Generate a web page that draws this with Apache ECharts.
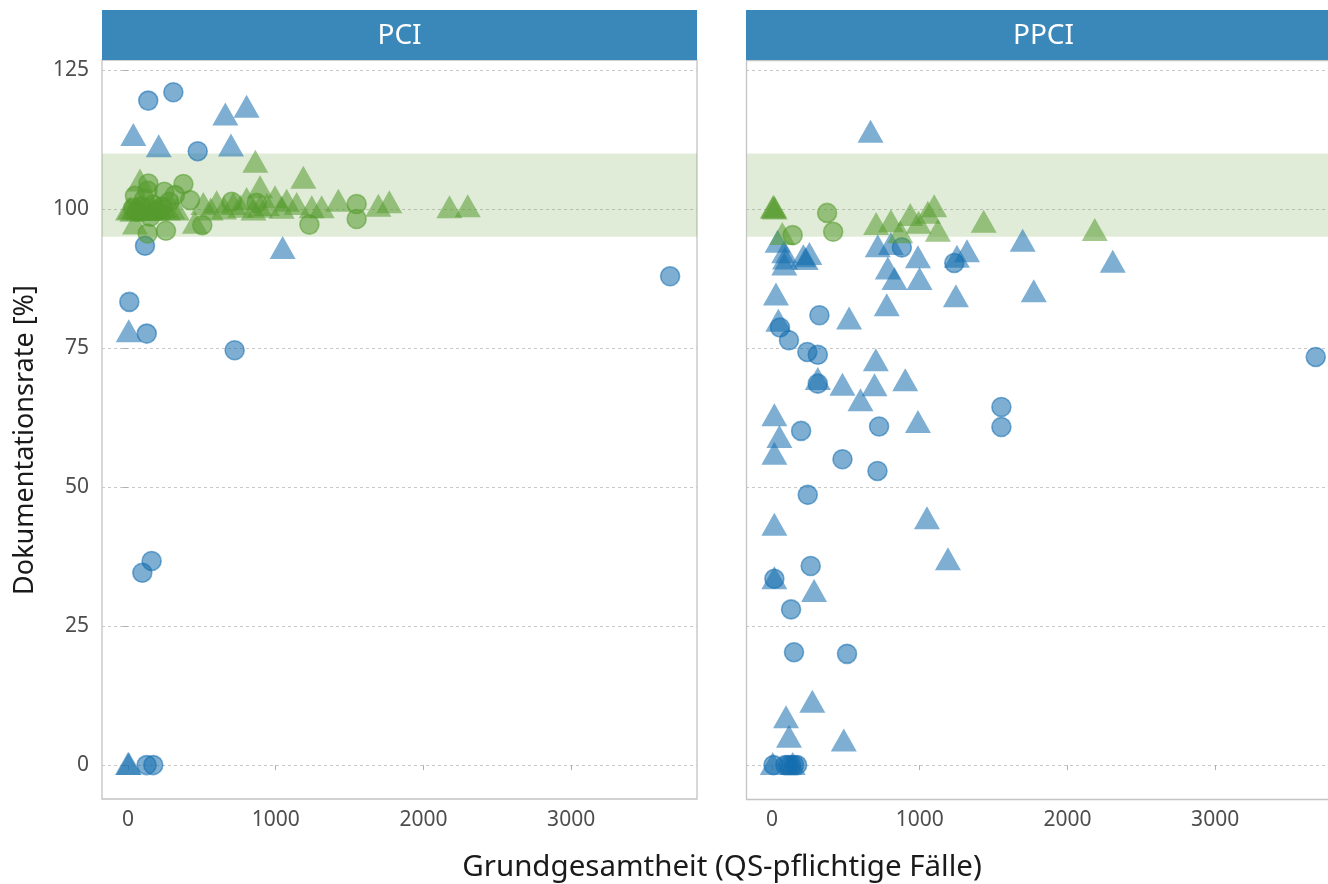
<!DOCTYPE html>
<html>
<head>
<meta charset="utf-8">
<script src="https://cdn.jsdelivr.net/npm/echarts@6/dist/echarts.min.js"></script>
<style>html,body{margin:0;padding:0;background:#fff}#c{width:1328px;height:884px}</style>
</head>
<body>
<div id="c"></div>
<script>
// ---------- data ----------
const panels = ['PCI', 'PPCI'];
const yTicks = [0, 25, 50, 75, 100, 125];
const xTicks = [0, 1000, 2000, 3000];
const bandLow = 95, bandHigh = 110;

// PCI: circles [x, y]
const pciCircles = [
  [137,119.5],[307,121],[472,110.4],[115,93.4],[9,83.3],[127,77.6],[722,74.6],[160,36.7],[97,34.6],[126,0],[171,0],[3670,87.9],
  [138,104.6],[375,104.5],[246,103.1],[318,102.5],[47,102.4],[133,103.3],[420,101.6],[702,101.3],[871,101.1],[1548,100.9],[1548,98.2],
  [1228,97.2],[503,97.1],[257,96.1],[133,95.6],[90,100.5],[170,100.8],[200,99.8],[60,99.5],[110,101.8],[230,100.4],[280,101.3],[150,98.6],[35,100.2]
];
// PCI: triangles [x, y]
const pciTriangles = [
  [36,113.4],[208,111.4],[659,117.1],[803,118.5],[697,111.5],[1047,93.1],[5,78.1],[0,0.3],[6,0.3],
  [862,108.6],[1187,105.7],[894,104],[81,105.2],[47,97.5],[453,97.6],
  [0,100],[15,100.2],[30,99.8],[50,100.3],[70,100],[90,100.4],[110,99.9],[130,100.2],[150,100],[170,100.3],[190,99.9],[210,100.1],[240,100.4],[270,100],[300,100.2],[330,100],
  [510,101],[560,100],[600,101.3],[650,100.2],[713,101],[760,100.5],[803,101.9],[850,100],[894,100.5],[940,100.8],[995,102.2],[1040,100.3],[1074,101.6],[1142,101],
  [1244,100.4],[1311,100.4],[1424,101.6],[1695,100.7],[1769,101.3],[2176,100.4],[2300,100.6]
];
// PPCI: circles [x, y]
const ppciCircles = [
  [879,93.1],[1234,90.3],[321,80.9],[54,78.7],[115,76.4],[239,74.3],[310,73.8],[310,68.6],[1553,64.4],[1553,60.8],[725,60.9],[197,60.1],
  [477,55],[714,52.9],[242,48.6],[262,35.8],[16,33.5],[129,28],[149,20.3],[508,20],[10,0],[90,0],[110,0],[130,0],[150,0],[170,0],[3681,73.4],
  [373,99.3],[414,95.9],[140,95.3]
];
// PPCI: triangles [x, y]
const ppciTriangles = [
  [667,114],[38,94.2],[83,92.3],[88,91.2],[83,90.1],[212,91.6],[253,92],[228,91.1],[716,93.4],[805,93.8],[988,91.4],[784,89.4],[829,87.5],
  [999,87.5],[1252,91.5],[1320,92.5],[1697,94.4],[2307,90.6],[27,84.7],[777,82.8],[1245,84.4],[1772,85.3],[522,80.4],[43,80],[703,72.9],
  [310,69.5],[477,68.5],[694,68.4],[902,69.3],[599,65.7],[16,63],[50,59.1],[16,56.1],[988,61.8],[16,43.3],[1049,44.5],[1191,37.1],[16,33.7],
  [285,31.4],[273,11.5],[95,8.7],[115,5.2],[486,4.5],[5,0.3],[140,0.3],
  [5,100.3],[12,100.5],[18,100.2],[70,95.6],[705,97.4],[805,97.9],[868,95.9],[936,99],[992,97.6],[1055,99.4],[1098,100.6],[1123,96.2],[1433,97.8],[2185,96.3]
];

// ---------- styling ----------
const BLUE = 'rgb(20,110,175)';
const GREEN = 'rgb(85,155,45)';
const FONT = '"Noto Sans", "Open Sans", sans-serif';
const BORDER = '#c4c4c4';
const inBand = p => p[1] >= bandLow && p[1] <= bandHigh;

const panelData = [
  {circles: pciCircles, triangles: pciTriangles},
  {circles: ppciCircles, triangles: ppciTriangles}
];

// panel 1 fully visible; panel 2 runs past the right window edge (same scale, clipped range)
const xMin = -176;
const pxPerUnit = 595 / (3852 - xMin);
const gridLeft = [102, 746];
const gridW = [595, 582];
const xMax = gridW.map(w => xMin + w / pxPerUnit);
const gridTop = 60, gridH = 739;

const grids = gridLeft.map((l, i) => ({left: l, top: gridTop, width: gridW[i], height: gridH, show: i === 0,
  borderColor: BORDER, borderWidth: 1.3, backgroundColor: 'transparent', containLabel: false}));

const xAxes = [0, 1].map(i => ({
  type: 'value', gridIndex: i, min: xMin, max: xMax[i],
  axisLine: {show: false},
  axisTick: {show: true, length: 5, lineStyle: {color: '#b0b0b0', width: 1}, customValues: xTicks},
  axisLabel: {show: true, color: '#4d4d4d', fontSize: 21, fontFamily: FONT, margin: 11, customValues: xTicks,
    formatter: v => String(v)},
  splitLine: {show: false}
}));
const yAxes = [0, 1].map(i => ({
  type: 'value', gridIndex: i, min: -6.1, max: 126.8,
  axisLine: {show: false},
  axisTick: {show: i === 0, length: 5, lineStyle: {color: '#b0b0b0', width: 1}, customValues: yTicks},
  axisLabel: {show: i === 0, color: '#4d4d4d', fontSize: 21, fontFamily: FONT, margin: 13, customValues: yTicks,
    formatter: v => String(v)},
  splitLine: {show: true, lineStyle: {color: '#c8c8c8', type: [3, 3], width: 1}}
}));

const series = [];
panelData.forEach((pd, i) => {
  // band
  series.push({type: 'scatter', xAxisIndex: i, yAxisIndex: i, data: [], silent: true,
    markArea: {silent: true, itemStyle: {color: 'rgba(100,160,60,0.2)'}, data: [[{yAxis: bandLow}, {yAxis: bandHigh}]]}, z: 1});
  const groups = [
    {data: pd.circles.filter(p => !inBand(p)), sym: 'circle', col: BLUE},
    {data: pd.triangles.filter(p => !inBand(p)), sym: 'triangle', col: BLUE},
    {data: pd.circles.filter(inBand), sym: 'circle', col: GREEN},
    {data: pd.triangles.filter(inBand), sym: 'triangle', col: GREEN}
  ];
  groups.forEach(g => {
    series.push({
      type: 'scatter', xAxisIndex: i, yAxisIndex: i, data: g.data,
      symbol: g.sym, symbolSize: g.sym === 'circle' ? 19 : [26, 23],
      itemStyle: g.sym === 'circle'
        ? {color: g.col, opacity: 0.55, borderColor: g.col, borderWidth: 1.6}
        : {color: g.col, opacity: 0.55, borderWidth: 0},
      z: 3, emphasis: {disabled: true}
    });
  });
});

const graphics = [];
panels.forEach((name, i) => {
  graphics.push({type: 'rect', left: gridLeft[i], top: 10, shape: {width: 595, height: 50}, style: {fill: '#3a87b9'}, z: 10});
  graphics.push({type: 'text', x: gridLeft[i] + 595 / 2, y: 36, z: 11,
    style: {text: name, fill: '#ffffff', font: '28px ' + FONT, textAlign: 'center', textVerticalAlign: 'middle'}});
});
// panel 2 border (its right side lies outside the window)
graphics.push({type: 'polyline', z: 5, silent: true,
  shape: {points: [[1345, 60.5], [746.5, 60.5], [746.5, 799.5], [1345, 799.5]]},
  style: {stroke: BORDER, lineWidth: 1.3, fill: null}});
graphics.push({type: 'text', x: 722, y: 868, z: 11,
  style: {text: 'Grundgesamtheit (QS-pflichtige Fälle)', fill: '#1a1a1a', font: '29.5px ' + FONT, textAlign: 'center', textVerticalAlign: 'middle'}});
graphics.push({type: 'text', x: 25, y: 440, rotation: Math.PI / 2, z: 11,
  style: {text: 'Dokumentationsrate [%]', fill: '#1a1a1a', font: '27px ' + FONT, textAlign: 'center', textVerticalAlign: 'middle'}});

const chart = echarts.init(document.getElementById('c'), null, {renderer: 'canvas'});
chart.setOption({
  animation: false,
  grid: grids, xAxis: xAxes, yAxis: yAxes, series: series, graphic: graphics
});
</script>
</body>
</html>
